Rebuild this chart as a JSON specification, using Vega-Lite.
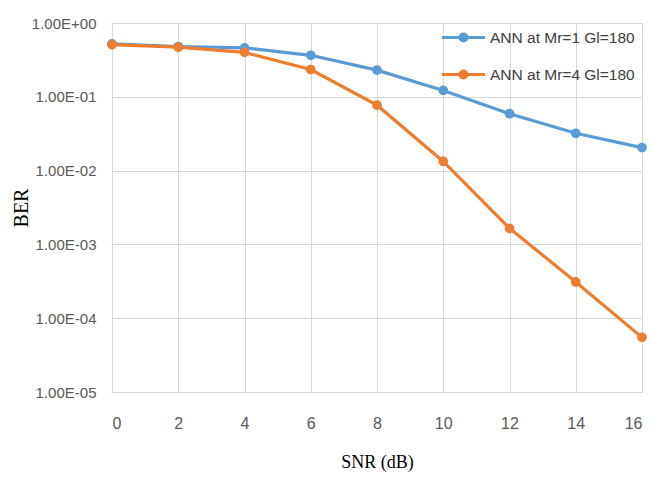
{
  "$schema": "https://vega.github.io/schema/vega-lite/v6.json",
  "width": 530,
  "height": 369,
  "autosize": "none",
  "padding": {"left": 112, "top": 23, "right": 9, "bottom": 87},
  "background": "white",
  "config": {
    "view": {"stroke": null},
    "font": "Liberation Sans"
  },
  "data": {
    "values": [
      {"snr": 0, "ber": 0.52, "series": "ANN at Mr=1 Gl=180"},
      {"snr": 2, "ber": 0.48, "series": "ANN at Mr=1 Gl=180"},
      {"snr": 4, "ber": 0.46, "series": "ANN at Mr=1 Gl=180"},
      {"snr": 6, "ber": 0.365, "series": "ANN at Mr=1 Gl=180"},
      {"snr": 8, "ber": 0.23, "series": "ANN at Mr=1 Gl=180"},
      {"snr": 10, "ber": 0.122, "series": "ANN at Mr=1 Gl=180"},
      {"snr": 12, "ber": 0.059, "series": "ANN at Mr=1 Gl=180"},
      {"snr": 14, "ber": 0.032, "series": "ANN at Mr=1 Gl=180"},
      {"snr": 16, "ber": 0.0205, "series": "ANN at Mr=1 Gl=180"},
      {"snr": 0, "ber": 0.51, "series": "ANN at Mr=4 Gl=180"},
      {"snr": 2, "ber": 0.47, "series": "ANN at Mr=4 Gl=180"},
      {"snr": 4, "ber": 0.4, "series": "ANN at Mr=4 Gl=180"},
      {"snr": 6, "ber": 0.234, "series": "ANN at Mr=4 Gl=180"},
      {"snr": 8, "ber": 0.077, "series": "ANN at Mr=4 Gl=180"},
      {"snr": 10, "ber": 0.0133, "series": "ANN at Mr=4 Gl=180"},
      {"snr": 12, "ber": 0.00165, "series": "ANN at Mr=4 Gl=180"},
      {"snr": 14, "ber": 0.00031, "series": "ANN at Mr=4 Gl=180"},
      {"snr": 16, "ber": 0.000055, "series": "ANN at Mr=4 Gl=180"}
    ]
  },
  "mark": {
    "type": "line",
    "strokeWidth": 3.2,
    "point": {"filled": true, "size": 95, "opacity": 1}
  },
  "encoding": {
    "x": {
      "field": "snr",
      "type": "quantitative",
      "scale": {"domain": [0, 16], "nice": false, "zero": false},
      "axis": {
        "title": "SNR (dB)",
        "values": [0, 2, 4, 6, 8, 10, 12, 14, 16],
        "domain": false,
        "ticks": false,
        "grid": true,
        "gridColor": "#d9d9d9",
        "gridWidth": 1,
        "labelFont": "Liberation Sans",
        "labelFontSize": 16,
        "labelColor": "#595959",
        "labelPadding": 23,
        "titleFont": "Liberation Serif",
        "titleFontSize": 18,
        "titleFontWeight": "normal",
        "titleColor": "#000000",
        "titlePadding": 22
      }
    },
    "y": {
      "field": "ber",
      "type": "quantitative",
      "scale": {"type": "log", "domain": [0.00001, 1], "nice": false},
      "axis": {
        "title": "BER",
        "values": [0.00001, 0.0001, 0.001, 0.01, 0.1, 1],
        "labelExpr": "'1.00E' + (datum.value >= 1 ? '+00' : '-0' + (-round(log(datum.value) / LN10)))",
        "domain": false,
        "ticks": false,
        "grid": true,
        "gridColor": "#d9d9d9",
        "gridWidth": 1,
        "labelFont": "Liberation Sans",
        "labelFontSize": 15,
        "labelColor": "#595959",
        "labelPadding": 16,
        "titleFont": "Liberation Serif",
        "titleFontSize": 20,
        "titleFontWeight": "normal",
        "titleColor": "#000000",
        "titlePadding": 0
      }
    },
    "color": {
      "field": "series",
      "type": "nominal",
      "scale": {"range": ["#5B9BD5", "#ED7D31"]},
      "legend": {
        "title": null,
        "orient": "none",
        "legendX": 334,
        "legendY": -3,
        "padding": 0,
        "rowPadding": 10,
        "symbolType": "M-1.36,0H1.36M0.22,0A0.22,0.22,0,1,1,-0.22,0A0.22,0.22,0,1,1,0.22,0Z",
        "symbolSize": 1000,
        "symbolStrokeWidth": 3,
        "labelFont": "Liberation Sans",
        "labelFontSize": 15.5,
        "labelColor": "#404040",
        "labelOffset": 9,
        "encode": {
          "symbols": {
            "update": {
              "fill": {"scale": "color", "field": "value"},
              "stroke": {"scale": "color", "field": "value"},
              "opacity": {"value": 1}
            }
          }
        }
      }
    }
  }
}
